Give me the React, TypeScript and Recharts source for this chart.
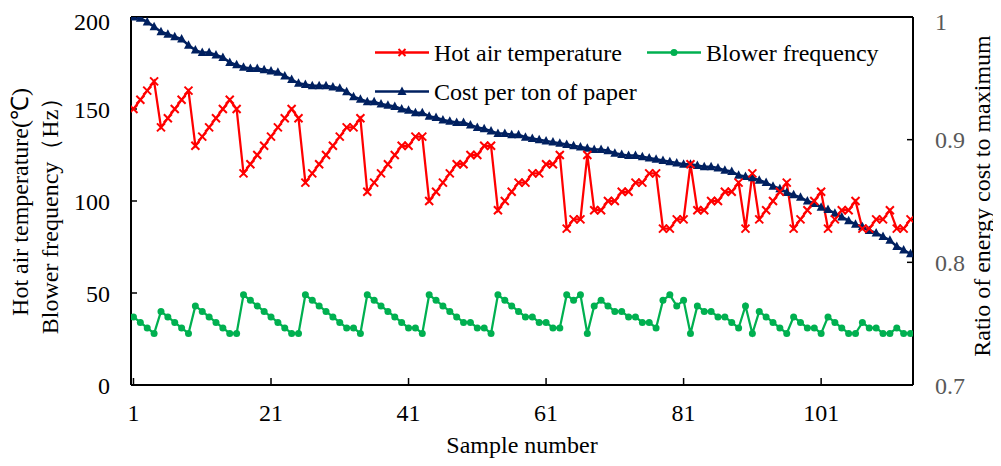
import { ComposedChart, Line, XAxis, YAxis, ReferenceLine } from "recharts"

const FONT = "'Liberation Serif', 'Times New Roman', serif"

// sample index 1..114
const sampleNo = Array.from({ length: 114 }, (_, i) => i + 1)

const hotAirTemp = [
  150, 155, 160, 165, 140, 145, 150, 155, 160, 130, 135, 140, 145, 150, 155, 150,
  115, 120, 125, 130, 135, 140, 145, 150, 145,
  110, 115, 120, 125, 130, 135, 140, 140, 145,
  105, 110, 115, 120, 125, 130, 130, 135, 135,
  100, 105, 110, 115, 120, 120, 125, 125, 130, 130,
  95, 100, 105, 110, 110, 115, 115, 120, 120, 125,
  85, 90, 90, 125, 95, 95, 100, 100, 105, 105, 110, 110, 115, 115, 85, 85, 90, 90, 120, 95,
  95, 100, 100, 105, 105, 110, 85, 115, 90, 95, 100, 105, 110, 85, 90, 95, 100, 105, 85, 90,
  95, 95, 100, 85, 85, 90, 90, 95, 85, 85, 90,
]

const blowerFreq = [
  37, 34, 31, 28,
  40, 37, 34, 31, 28,
  43, 40, 37, 34, 31, 28, 28,
  49, 46, 43, 40, 37, 34, 31, 28, 28,
  49, 46, 43, 40, 37, 34, 31, 31, 28,
  49, 46, 43, 40, 37, 34, 31, 31, 28,
  49, 46, 43, 40, 37, 34, 34, 31, 31, 28,
  49, 46, 43, 40, 37, 37, 34, 34, 31, 31,
  49, 46, 49, 28, 43, 46, 43, 40, 40, 37, 37, 34, 34, 31, 46, 49, 43, 46, 28, 43,
  40, 40, 37, 37, 34, 31, 43, 28, 40, 37, 34, 31, 28, 37, 34, 31, 31, 28, 37, 34,
  31, 28, 28, 34, 31, 31, 28, 28, 31, 28, 28,
]

// cost per ton, as a ratio of the maximum
const costRatio = [
  1.0, 0.999, 0.996, 0.992, 0.988, 0.986, 0.984, 0.982, 0.977, 0.973,
  0.971, 0.971, 0.969, 0.967, 0.963, 0.961, 0.959, 0.958, 0.958, 0.957,
  0.956, 0.955, 0.952, 0.949, 0.946, 0.945, 0.944, 0.944, 0.944, 0.943,
  0.942, 0.939, 0.935, 0.933, 0.931, 0.931, 0.929, 0.928, 0.927, 0.925,
  0.924, 0.922, 0.922, 0.919, 0.918, 0.916, 0.915, 0.914, 0.914, 0.912,
  0.91, 0.909, 0.907, 0.905, 0.905, 0.904, 0.904, 0.902, 0.901, 0.9,
  0.899, 0.898, 0.897, 0.896, 0.895, 0.894, 0.893, 0.892, 0.892, 0.891,
  0.889, 0.888, 0.887, 0.887, 0.886, 0.885, 0.884, 0.883, 0.882, 0.881,
  0.88, 0.88, 0.879, 0.878, 0.878, 0.877, 0.875, 0.874, 0.871, 0.87,
  0.869, 0.867, 0.865, 0.862, 0.86, 0.857, 0.855, 0.853, 0.85, 0.848,
  0.845, 0.843, 0.84, 0.837, 0.834, 0.831, 0.829, 0.826, 0.824, 0.821,
  0.818, 0.813, 0.81, 0.807,
]

const xTicks = [1, 21, 41, 61, 81, 101]
const leftTicks = [0, 50, 100, 150, 200]
const rightTicks = [0.7, 0.8, 0.9, 1]

const RED = "#FF0000"
const GREEN = "#00B050"
const NAVY = "#002060"

const data = sampleNo.map((s, i) => ({
  sample: s,
  temp: hotAirTemp[i],
  freq: blowerFreq[i],
  cost: costRatio[i],
}))

const CrossDot = (props: any) => {
  const { cx, cy, index } = props
  if (cx == null || cy == null) return null
  const s = 4
  return (
    <path
      key={`cross-${index}`}
      d={`M${cx - s},${cy - s}L${cx + s},${cy + s}M${cx - s},${cy + s}L${cx + s},${cy - s}`}
      stroke={RED}
      strokeWidth={2}
      fill="none"
    />
  )
}

const TriangleDot = (props: any) => {
  const { cx, cy, index } = props
  if (cx == null || cy == null) return null
  return (
    <path
      key={`tri-${index}`}
      d={`M${cx},${cy - 5}L${cx + 4.5},${cy + 3.5}L${cx - 4.5},${cy + 3.5}Z`}
      fill={NAVY}
    />
  )
}

const textStyle = { fontFamily: FONT, fontSize: 24, fill: "#000" }

function Overlay() {
  return (
    <svg
      width={985}
      height={450}
      style={{ position: "absolute", left: 0, top: 0, overflow: "visible", pointerEvents: "none" }}
    >
      {/* legend */}
      <line x1={367} y1={44.5} x2={421} y2={44.5} stroke={RED} strokeWidth={2.5} />
      <path d="M390.5,41L397.5,48M390.5,48L397.5,41" stroke={RED} strokeWidth={2} />
      <text x={426} y={52.5} {...textStyle}>Hot air temperature</text>

      <line x1={639} y1={44.5} x2={693} y2={44.5} stroke={GREEN} strokeWidth={2.5} />
      <circle cx={666} cy={44.5} r={3.5} fill={GREEN} />
      <text x={698} y={52.5} {...textStyle}>Blower frequency</text>

      <line x1={367} y1={83.5} x2={421} y2={83.5} stroke={NAVY} strokeWidth={2.5} />
      <path d="M394,78.5L398.5,87L389.5,87Z" fill={NAVY} />
      <text x={426} y={91.5} {...textStyle}>Cost per ton of paper</text>

      {/* axis titles */}
      <text x={20} y={194} textAnchor="middle" transform="rotate(-90, 20, 194)" {...textStyle}>
        Hot air temperature(℃)
      </text>
      <text x={50} y={202} textAnchor="middle" transform="rotate(-90, 50, 202)" {...textStyle}>
        Blower frequency（Hz）
      </text>
      <text x={982} y={188} textAnchor="middle" transform="rotate(-90, 982, 188)" {...textStyle}>
        Ratio of energy cost to maximum
      </text>
      <text x={514} y={445} textAnchor="middle" {...textStyle}>Sample number</text>
    </svg>
  )
}

export default function App() {
  return (
    <div style={{ position: "relative", width: 985, height: 450 }}>
      <ComposedChart
        width={985}
        height={450}
        data={data}
        margin={{ top: 9, right: 0, bottom: 0, left: 0 }}
      >
        <XAxis
          dataKey="sample"
          type="number"
          domain={[0.64, 114.36]}
          ticks={xTicks}
          height={73}
          tickSize={-7}
          tickMargin={26}
          axisLine={{ stroke: "#000", strokeWidth: 2 }}
          tickLine={{ stroke: "#000", strokeWidth: 1.5 }}
          tick={{ fill: "#000", fontSize: 24, fontFamily: FONT }}
          allowDataOverflow
        />
        <YAxis
          yAxisId="left"
          domain={[0, 200]}
          ticks={leftTicks}
          width={123}
          tickSize={-6}
          tickMargin={27}
          axisLine={{ stroke: "#000", strokeWidth: 2 }}
          tickLine={{ stroke: "#000", strokeWidth: 1.5 }}
          tick={{ fill: "#000", fontSize: 24, fontFamily: FONT }}
        />
        <YAxis
          yAxisId="right"
          orientation="right"
          domain={[0.7, 1]}
          ticks={rightTicks}
          width={80}
          tickSize={-6}
          tickMargin={28}
          axisLine={{ stroke: "#000", strokeWidth: 2 }}
          tickLine={{ stroke: "#000", strokeWidth: 1.5 }}
          tick={{ fill: "#595959", fontSize: 24, fontFamily: FONT, textAnchor: "start" }}
          allowDataOverflow
        />
        <ReferenceLine yAxisId="left" y={200} stroke="#000" strokeWidth={2} />
        <Line
          yAxisId="right"
          dataKey="cost"
          type="linear"
          stroke={NAVY}
          strokeWidth={2.5}
          dot={TriangleDot}
          activeDot={false}
          isAnimationActive={false}
        />
        <Line
          yAxisId="left"
          dataKey="temp"
          type="linear"
          stroke={RED}
          strokeWidth={2.25}
          dot={CrossDot}
          activeDot={false}
          isAnimationActive={false}
        />
        <Line
          yAxisId="left"
          dataKey="freq"
          type="linear"
          stroke={GREEN}
          strokeWidth={2.25}
          dot={{ r: 3.5, fill: GREEN, stroke: GREEN, strokeWidth: 0 }}
          activeDot={false}
          isAnimationActive={false}
        />
      </ComposedChart>
      <Overlay />
    </div>
  )
}
